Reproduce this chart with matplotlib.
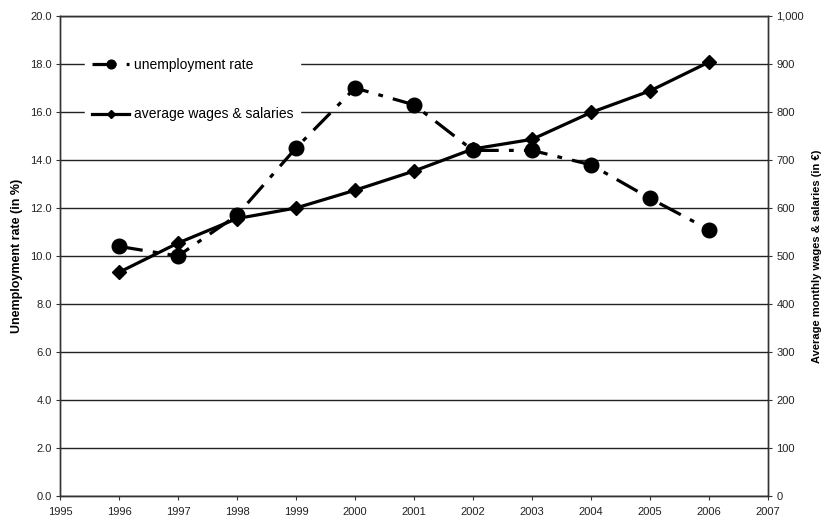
import matplotlib
matplotlib.use("Agg")
import matplotlib.pyplot as plt
from matplotlib.ticker import FuncFormatter, MultipleLocator

plt.rcParams['font.family'] = ['Liberation Sans', 'DejaVu Sans']

# data
years = [1996, 1997, 1998, 1999, 2000, 2001, 2002, 2003, 2004, 2005, 2006]
unemployment = [10.4, 10.0, 11.7, 14.5, 17.0, 16.3, 14.4, 14.4, 13.8, 12.4, 11.1]
wages = [466, 527, 578, 600, 637, 677, 723, 743, 799, 844, 904]

fig = plt.figure(figsize=(8.24, 5.18), dpi=100)
ax1 = fig.add_axes([60 / 824, 1 - 496 / 518, 708 / 824, 480 / 518])
ax2 = ax1.twinx()

# unemployment: long dash - dot line with round markers
ax1.plot(years, unemployment, color='black', lw=2.3,
         linestyle=(0, (7.5, 3.2, 1.5, 3.2)),
         marker='o', markersize=10.5, label='unemployment rate', zorder=3)

# wages: solid line with diamonds, right axis
ax2.plot(years, wages, color='black', lw=2.3, marker='D', markersize=7,
         label='average wages & salaries', zorder=3)

ax1.set_xlim(1995, 2007)
ax1.set_ylim(0, 20)
ax2.set_ylim(0, 1000)
ax1.xaxis.set_major_locator(MultipleLocator(1))
ax1.yaxis.set_major_locator(MultipleLocator(2))
ax2.yaxis.set_major_locator(MultipleLocator(100))
ax1.yaxis.set_major_formatter(FuncFormatter(lambda v, p: f"{v:.1f}"))
ax2.yaxis.set_major_formatter(FuncFormatter(lambda v, p: f"{v:,.0f}"))

ax1.yaxis.grid(True, color='#222222', lw=1.0)
ax1.set_axisbelow(True)

for ax in (ax1, ax2):
    ax.tick_params(labelsize=8, length=3, width=0.8, color='#333333', labelcolor='#222222', pad=3)
    for s in ax.spines.values():
        s.set_color('#333333')
        s.set_linewidth(1.0)
ax1.tick_params(axis='x', pad=5)

ax1.set_ylabel('Unemployment rate (in %)', fontsize=9, fontweight='bold', labelpad=5)
ax2.set_ylabel('Average monthly wages & salaries (in €)', fontsize=8, fontweight='bold', labelpad=6)

h1, l1 = ax1.get_legend_handles_labels()
h2, l2 = ax2.get_legend_handles_labels()
leg = ax2.legend(h1 + h2, l1 + l2, loc='upper left', bbox_to_anchor=(0.0353, 0.927),
                 fontsize=10, frameon=True, fancybox=False, framealpha=1,
                 edgecolor='white', labelspacing=2.55, handlelength=2.7,
                 handletextpad=0.3, markerscale=0.6, borderpad=0.5, borderaxespad=0)
leg.set_zorder(5)

fig.savefig('out.png', dpi=100)
